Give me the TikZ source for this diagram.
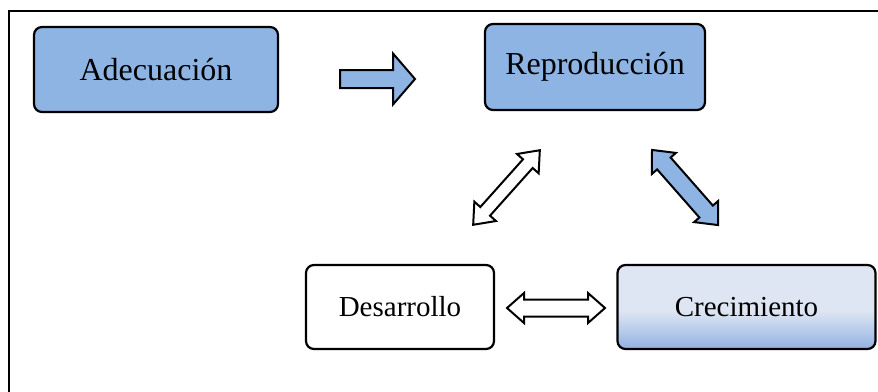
\documentclass[tikz,border=0pt]{standalone}
\usepackage{fontspec}
\setmainfont{Liberation Serif}
\definecolor{boxblue}{RGB}{141,180,227}
\definecolor{lightblue}{RGB}{223,230,243}
\definecolor{midblue}{RGB}{146,177,227}
\pgfdeclareverticalshading{crecshade}{100bp}{color(0bp)=(midblue); color(25bp)=(midblue); color(48bp)=(lightblue); color(100bp)=(lightblue)}
\tikzset{
  box/.style={draw=black, line width=2.2pt, rounded corners=8pt, align=center, inner sep=0pt},
  bigtext/.style={font=\fontsize{32}{36}\selectfont},
  smalltext/.style={font=\fontsize{29}{34}\selectfont},
  blockarrow/.style={draw=black, line width=2pt, line join=miter},
  frameline/.style={draw=black, line width=2.8pt}
}
\newcommand\blockdbl[7]{%
  \begin{scope}[shift={#1},rotate=#2]
    \filldraw[blockarrow,fill=#7] (-#3,0) -- (-#3+#6,#5) -- (-#3+#6,#4) -- (#3-#6,#4) -- (#3-#6,#5) -- (#3,0)
      -- (#3-#6,-#5) -- (#3-#6,-#4) -- (-#3+#6,-#4) -- (-#3+#6,-#5) -- cycle;
  \end{scope}}
\begin{document}
\begin{tikzpicture}[x=1pt,y=-1pt]
\useasboundingbox (0,0) rectangle (878,391);
\draw[frameline] (9,392) -- (9,11) -- (879,11);
\node[box, bigtext, fill=boxblue, minimum width=244pt, minimum height=85pt] (ade) at (156,69.5) {Adecuación};
\node[box, bigtext, fill=boxblue, minimum width=220pt, minimum height=86pt] (rep) at (595,67) {Reproducción};
\node[box, smalltext, fill=white, minimum width=188pt, minimum height=84pt] (des) at (400,307) {Desarrollo};
\node[box, smalltext, shading=crecshade, minimum width=258pt, minimum height=84pt] (cre) at (746.5,307) {Crecimiento};
% single block arrow
\filldraw[blockarrow, fill=boxblue] (340,70) -- (393,70) -- (393,53.5) -- (415,79) -- (393,104.5) -- (393,88) -- (340,88) -- cycle;
% double block arrows
\blockdbl{(506.5,187.5)}{48.2}{50}{6.5}{14.5}{18}{white}
\blockdbl{(685,187.5)}{-48.7}{50}{9}{16}{18}{boxblue}
\blockdbl{(556,308)}{0}{49}{8.5}{15}{17}{white}
\end{tikzpicture}
\end{document}
